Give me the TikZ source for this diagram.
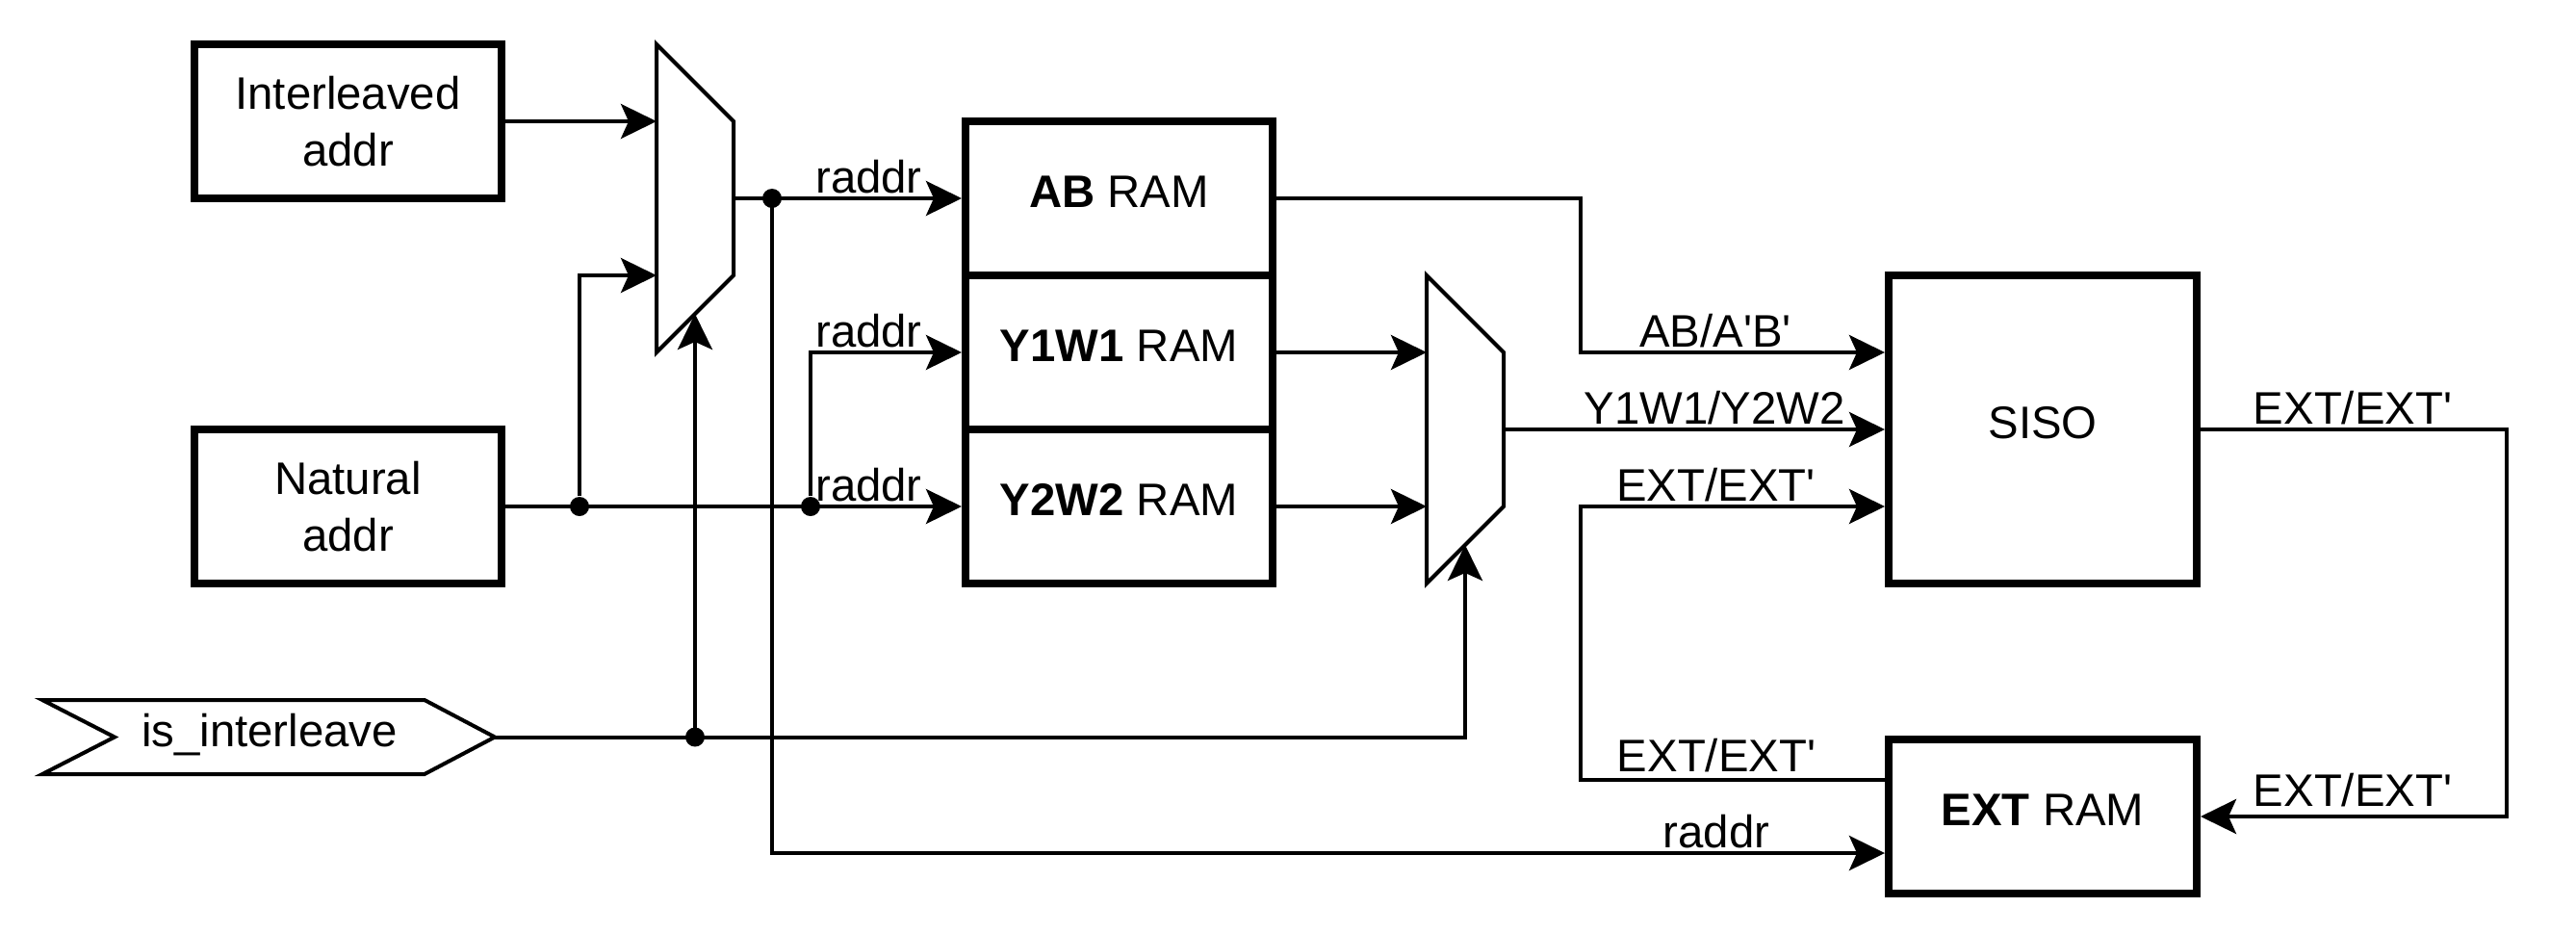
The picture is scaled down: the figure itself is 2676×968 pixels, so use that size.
\documentclass[tikz,border=0pt]{standalone}
\usepackage{fontspec}
\setmainfont{Liberation Sans}
\usetikzlibrary{arrows.meta}
\newcommand{\sq}{\textquotesingle}
\begin{document}
\begin{tikzpicture}[x=0.3pt,y=-0.3pt,
  every node/.style={font=\fontsize{14.2}{17.7}\selectfont},
  blk/.style={draw, line width=2.4pt, minimum width=95.7pt, minimum height=48pt,
    inner sep=0pt, align=center},
  one/.style={text height=0.75em, text depth=0.16em},
  muxs/.style={draw, line width=1.2pt, line join=miter},
  arr/.style={line width=1.2pt, -{Stealth[length=11.1pt, width=10.8pt, inset=2.4pt]}},
  dot/.style={circle, fill=black, inner sep=0pt, minimum size=6pt},
  lbl/.style={anchor=base, inner sep=0pt}]
\useasboundingbox (0,0) rectangle (2676,968);

% blocks
\node[blk] (ia) at (361.5,126) {Interleaved\\addr};
\node[blk] (na) at (361.5,526) {Natural\\addr};
\node[blk, one] (ab) at (1162.5,206) {\textbf{AB} RAM};
\node[blk, one] (y1) at (1162.5,366) {\textbf{Y1W1} RAM};
\node[blk, one] (y2) at (1162.5,526) {\textbf{Y2W2} RAM};
\node[blk, one, minimum width=96pt, minimum height=96pt] (siso) at (2122,446) {SISO};
\node[blk, one, minimum width=96pt] (ext) at (2122,848) {\textbf{EXT} RAM};

% is_interleave port shape
\draw[line width=1.2pt, line join=miter] (44,727) -- (441,727) -- (514,765.5) -- (441,804) -- (44,804) -- (119,765.5) -- cycle;
\node[one, inner sep=0pt] (isi) at (280,765.5) {is\_interleave};
\coordinate (isiT) at (514,765.5);

% multiplexers
\draw[muxs] (682,46) -- (762,126) -- (762,286) -- (682,366) -- cycle;
\draw[muxs] (1482,286) -- (1562,366) -- (1562,526) -- (1482,606) -- cycle;
\coordinate (m1a) at (682,126);
\coordinate (m1b) at (682,286);
\coordinate (m1s) at (722,326);
\coordinate (m1o) at (762,206);
\coordinate (m2a) at (1482,366);
\coordinate (m2b) at (1482,526);
\coordinate (m2s) at (1522,566);
\coordinate (m2o) at (1562,446);
\coordinate (sisoA) at (1958,366);
\coordinate (sisoC) at (1958,526);
\coordinate (extA) at (1958,886);
\coordinate (extO) at (1962,810);

% junction dots
\node[dot] (d1) at (602,526) {};
\node[dot] (d2) at (842,526) {};
\node[dot] (d3) at (722,765.5) {};
\node[dot] (d4) at (802,206) {};

% connectors
\draw[arr] (ia) -- (m1a);
\draw[arr] (na) -- (y2);
\draw[arr] (d1) |- (m1b);
\draw[arr] (d2) |- (y1);
\draw[arr] (m1o) -- (ab);
\draw[arr] (d4.center) |- (extA);
\draw[arr] (d3.center) -- (m1s);
\draw[arr] (isiT) -| (m2s);
\draw[arr] (y1) -- (m2a);
\draw[arr] (y2) -- (m2b);
\draw[arr] (m2o) -- (siso);
\draw[arr] (ab.east) -| (1642,366) -- (sisoA);
\draw[arr] (extO) -| (1642,526) -- (sisoC);
\draw[arr] (siso.east) -| (2604,848) -- (ext.east);

% labels
\node[lbl] (l1) at (902.5,200) {raddr};
\node[lbl] (l2) at (902.5,360) {raddr};
\node[lbl] (l3) at (902.5,520) {raddr};
\node[lbl] (l4) at (1782,360) {AB/A\sq B\sq};
\node[lbl] (l5) at (1781,440.5) {Y1W1/Y2W2};
\node[lbl] (l6) at (1782.5,520) {EXT/EXT\sq};
\node[lbl] (l7) at (1783,801) {EXT/EXT\sq};
\node[lbl] (l8) at (1783,880) {raddr};
\node[lbl] (l9) at (2444,440.5) {EXT/EXT\sq};
\node[lbl] (l10) at (2444,837.5) {EXT/EXT\sq};
\end{tikzpicture}
\end{document}
